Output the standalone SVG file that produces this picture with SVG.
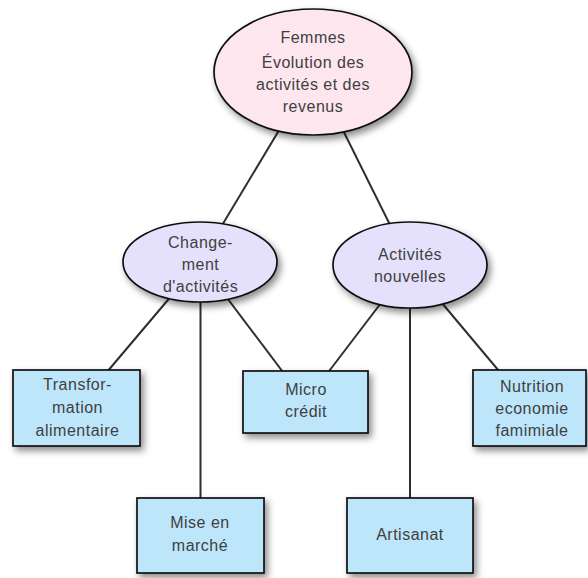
<svg xmlns="http://www.w3.org/2000/svg" width="588" height="578" viewBox="0 0 588 578">
  <defs>
    <filter id="shadow" x="-20%" y="-20%" width="150%" height="160%">
      <feDropShadow dx="3" dy="4" stdDeviation="3.5" flood-color="#000" flood-opacity="0.45"/>
    </filter>
    <style>
      .link { stroke: #2e2e2e; stroke-width: 2; fill: none; }
      .node { stroke: #111; stroke-width: 1.7; filter: url(#shadow); }
      .root { fill: #fde6ee; }
      .mid { fill: #e5e0fb; }
      .leaf { fill: #bde6fb; }
      text { font-family: "Liberation Sans", Arial, sans-serif; font-size: 16px; letter-spacing: 0.5px; fill: #404040; text-anchor: middle; }
    </style>
  </defs>

  <!-- connectors, drawn centre to centre beneath the nodes -->
  <g id="connectors">
    <line class="link" x1="314" y1="72" x2="200" y2="262"/>
    <line class="link" x1="314" y1="72" x2="410" y2="265"/>
    <line class="link" x1="200" y1="262" x2="76.5" y2="408"/>
    <line class="link" x1="200.5" y1="262" x2="200.5" y2="535"/>
    <line class="link" x1="200" y1="262" x2="305.5" y2="402"/>
    <line class="link" x1="410" y1="265" x2="305.5" y2="402"/>
    <line class="link" x1="410" y1="265" x2="410" y2="535"/>
    <line class="link" x1="410" y1="265" x2="530" y2="408"/>
  </g>

  <g id="femmes">
    <ellipse class="node root" cx="313" cy="72" rx="99" ry="63"/>
    <text x="313" y="43">Femmes</text>
    <text x="313" y="68">Évolution des</text>
    <text x="313" y="90">activités et des</text>
    <text x="313" y="112">revenus</text>
  </g>

  <g id="changement">
    <ellipse class="node mid" cx="200" cy="262" rx="77" ry="40"/>
    <text x="200.5" y="248">Change-</text>
    <text x="200.5" y="270">ment</text>
    <text x="200.5" y="292">d'activités</text>
  </g>

  <g id="activites-nouvelles">
    <ellipse class="node mid" cx="410" cy="265" rx="77" ry="43"/>
    <text x="410" y="260">Activités</text>
    <text x="410" y="282">nouvelles</text>
  </g>

  <g id="transformation">
    <rect class="node leaf" x="13" y="370" width="127" height="76"/>
    <text x="77.5" y="390">Transfor-</text>
    <text x="77.5" y="413">mation</text>
    <text x="77.5" y="436">alimentaire</text>
  </g>

  <g id="micro-credit">
    <rect class="node leaf" x="243" y="371" width="125" height="62"/>
    <text x="306" y="395">Micro</text>
    <text x="306" y="417">crédit</text>
  </g>

  <g id="nutrition">
    <rect class="node leaf" x="473" y="370" width="113" height="76"/>
    <text x="532" y="392">Nutrition</text>
    <text x="532" y="414">economie</text>
    <text x="532" y="436">famimiale</text>
  </g>

  <g id="mise-en-marche">
    <rect class="node leaf" x="137" y="498" width="127" height="75"/>
    <text x="200" y="528">Mise en</text>
    <text x="200" y="551">marché</text>
  </g>

  <g id="artisanat">
    <rect class="node leaf" x="347" y="498" width="126" height="75"/>
    <text x="410" y="540">Artisanat</text>
  </g>
</svg>
